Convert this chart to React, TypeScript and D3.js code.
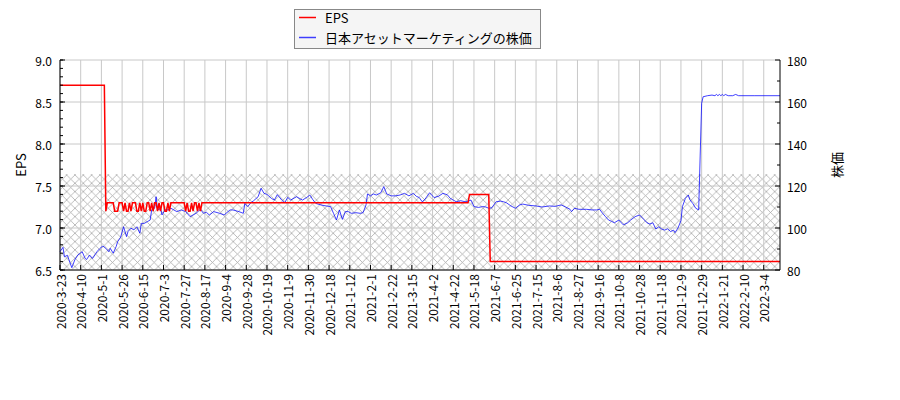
import React from "react"
import * as d3 from "d3"

// x axis is a trading-day index; a label every 14 trading days
const tickLabels = [
  "2020-3-23", "2020-4-10", "2020-5-1", "2020-5-26", "2020-6-15", "2020-7-3", "2020-7-27",
  "2020-8-17", "2020-9-4", "2020-9-28", "2020-10-19", "2020-11-9", "2020-11-30", "2020-12-18",
  "2021-1-12", "2021-2-1", "2021-2-22", "2021-3-15", "2021-4-2", "2021-4-22", "2021-5-18",
  "2021-6-7", "2021-6-25", "2021-7-15", "2021-8-6", "2021-8-27", "2021-9-16", "2021-10-8",
  "2021-10-28", "2021-11-18", "2021-12-9", "2021-12-29", "2022-1-21", "2022-2-10", "2022-3-4",
]
const tickStep = 14
const lastDay = 487

// [day index, EPS]
const epsPoints: [number, number][] = [
  [0, 8.7], [30, 8.7], [31, 7.2], [32, 7.3], [36, 7.3], [37, 7.2], [39, 7.2], [40, 7.3], [42, 7.3],
  [43, 7.2], [44, 7.3], [45, 7.2], [46, 7.2], [47, 7.3], [48, 7.2], [49, 7.3], [51, 7.3], [52, 7.2],
  [53, 7.2], [54, 7.3], [55, 7.2], [56, 7.3], [57, 7.2], [58, 7.2], [59, 7.3], [60, 7.3], [61, 7.2],
  [62, 7.3], [63, 7.2], [64, 7.3], [65, 7.3], [66, 7.2], [67, 7.3], [68, 7.2], [69, 7.3], [70, 7.3],
  [71, 7.2], [72, 7.2], [73, 7.3], [74, 7.2], [75, 7.3], [84, 7.3], [85, 7.2], [86, 7.3], [87, 7.2],
  [88, 7.2], [89, 7.3], [90, 7.2], [91, 7.3], [92, 7.3], [93, 7.2], [94, 7.3], [95, 7.2], [96, 7.3],
  [276, 7.3], [277, 7.4], [290, 7.4], [291, 6.6], [487, 6.6],
]

// [day index, share price]
const pricePoints: [number, number][] = [
  [0, 88.7], [2, 90.8], [3, 86.3], [5, 87], [6, 85], [8, 81.1], [10, 84.8], [12, 87.1], [15, 88.7],
  [17, 85.5], [18, 85], [20, 87.1], [22, 85.5], [25, 88.7], [27, 90.3], [29, 91.4], [31, 90.3],
  [33, 88.7], [34, 90.3], [36, 88], [38, 91.2], [39, 93.5], [41, 95.6], [43, 100.6], [45, 95.9],
  [46, 98.3], [48, 99.9], [50, 99.1], [52, 100.6], [54, 97.5], [55, 102.2], [57, 102.2], [59, 103.0],
  [61, 103.8], [62, 108.6], [64, 109.4], [65, 114.9], [66, 108.6], [68, 109.4], [69, 106.2],
  [71, 108.6], [73, 108.6], [75, 109.4], [79, 107.8], [82, 108.6], [85, 107.8], [88, 105.4],
  [90, 106.2], [92, 107.0], [95, 108.9], [97, 107.0], [99, 107.5], [101, 106.2], [104, 107.8],
  [108, 107.0], [111, 106.2], [115, 108.6], [117, 108.6], [121, 107.8], [124, 107.0], [125, 111.7],
  [127, 110.2], [129, 112.0], [131, 113.0], [134, 114.9], [136, 118.9], [138, 116.5], [140, 116.0],
  [143, 114.1], [145, 113.3], [147, 115.9], [150, 113.3], [152, 112.0], [154, 114.6], [156, 113.3],
  [160, 114.9], [164, 113.3], [167, 114.6], [169, 115.7], [171, 113.5], [173, 111.7], [177, 110.9],
  [180, 110.5], [183, 110.2], [185, 107.0], [187, 103.8], [189, 108.6], [191, 104.1], [193, 107.8],
  [195, 107.8], [197, 107.0], [200, 107.3], [203, 107.0], [205, 107.3], [207, 111], [208, 116.2],
  [210, 115.3], [212, 116.2], [214, 115.7], [217, 116.8], [219, 119.7], [221, 116.2], [224, 115.3],
  [227, 115.3], [230, 115.7], [233, 116.5], [236, 115.3], [239, 116.5], [241, 115.1], [243, 114.5],
  [245, 112.5], [247, 113.8], [250, 116.8], [253, 114.5], [256, 115.1], [259, 116.5], [262, 115.8],
  [264, 114.1], [266, 113.3], [268, 112.5], [271, 113.0], [274, 112.5], [276, 112.8], [278, 113.3],
  [280, 110.2], [283, 109.8], [286, 110.2], [288, 110.0], [290, 109.4], [292, 109.6], [295, 112.5],
  [298, 112.8], [300, 112.5], [302, 112.0], [305, 110.5], [308, 109.4], [311, 111.0], [313, 111.4],
  [317, 110.8], [322, 110.5], [326, 110.0], [331, 110.5], [335, 110.3], [339, 111.0], [342, 110.0],
  [345, 108.9], [346, 107.8], [348, 109.4], [351, 108.9], [356, 108.9], [360, 108.6], [363, 108.6],
  [365, 108.9], [367, 107.0], [369, 105.4], [371, 103.8], [373, 103.2], [375, 102.5], [378, 103.8],
  [381, 101.5], [384, 102.5], [386, 103.8], [389, 105.4], [392, 106.2], [395, 104.0], [397, 102.5],
  [399, 101.9], [401, 102.5], [403, 99.5], [405, 100.6], [407, 99.5], [409, 99.0], [411, 99.6],
  [413, 98.3], [415, 99.0], [416, 97.8], [418, 100.0], [420, 103.5], [421, 110.2], [423, 114.1],
  [425, 115.7], [426, 113.5], [428, 111.7], [430, 109.4], [432, 108.6], [433, 134.3], [434, 159.4],
  [435, 162.5], [438, 163.0], [441, 163.3], [443, 163.0], [444, 163.6], [445, 163.0], [446, 163.6],
  [447, 163.0], [448, 163.6], [449, 163.0], [450, 163.6], [452, 163.0], [455, 163.0], [457, 163.6],
  [459, 163.0], [470, 163.0], [487, 163.0],
]

const epsTicks = [6.5, 7.0, 7.5, 8.0, 8.5, 9.0]
const priceTicks = [80, 100, 120, 140, 160, 180]
const hatchTop = 7.64

const font = "'Noto Sans CJK JP', 'Noto Sans', sans-serif"

export default function App() {
  const left = 60, right = 780, top = 60, bottom = 270
  const x = d3.scaleLinear().domain([0, lastDay]).range([left, right])
  const yL = d3.scaleLinear().domain([6.5, 9.0]).range([bottom, top])
  const yR = d3.scaleLinear().domain([80, 180]).range([bottom, top])

  const epsLine = d3.line<[number, number]>().x(d => x(d[0])).y(d => yL(d[1]))
  const priceLine = d3.line<[number, number]>().x(d => x(d[0])).y(d => yR(d[1]))

  const minorL = d3.range(65, 91).map(v => v / 10)
  const minorR = d3.range(90, 180, 20)
  const xTicks = tickLabels.map((label, i) => ({ label, pos: x(i * tickStep) }))

  return (
    <svg width={900} height={400} style={{ position: "absolute", left: 0, top: 0, background: "#fff" }}
      fontFamily={font}>
      <defs>
        <pattern id="hatch" width={8.33} height={8.33} patternUnits="userSpaceOnUse">
          <path d="M0,0L8.33,8.33M0,8.33L8.33,0" stroke="#a0a0a0" strokeWidth={0.7} fill="none" />
        </pattern>
      </defs>

      {/* hatched band */}
      <rect x={left} y={yL(hatchTop)} width={right - left} height={bottom - yL(hatchTop)} fill="url(#hatch)" />

      {/* grid */}
      {xTicks.map(t => (
        <line key={t.label} x1={t.pos} x2={t.pos} y1={top} y2={bottom} stroke="#c8c8c8" strokeWidth={1} />
      ))}
      {epsTicks.map(v => (
        <line key={v} x1={left} x2={right} y1={yL(v)} y2={yL(v)} stroke="#c8c8c8" strokeWidth={1} />
      ))}

      {/* series */}
      <path d={priceLine(pricePoints) || ""} fill="none" stroke="blue" strokeOpacity={0.75} strokeWidth={1} />
      <path d={epsLine(epsPoints) || ""} fill="none" stroke="red" strokeWidth={1.5} />

      {/* spines */}
      <line x1={left} x2={left} y1={top} y2={bottom} stroke="#000" />
      <line x1={right} x2={right} y1={top} y2={bottom} stroke="#000" />
      <line x1={left} x2={right} y1={bottom} y2={bottom} stroke="#000" />

      {/* left axis */}
      {minorL.map(v => (
        <line key={"ml" + v} x1={left} x2={left + 3} y1={yL(v)} y2={yL(v)} stroke="#000" />
      ))}
      {epsTicks.map(v => (
        <g key={"tl" + v}>
          <line x1={left} x2={left + 5} y1={yL(v)} y2={yL(v)} stroke="#000" />
          <text x={52} y={yL(v)} textAnchor="end" dominantBaseline="central" fontSize={12}>{v.toFixed(1)}</text>
        </g>
      ))}

      {/* right axis */}
      {minorR.map(v => (
        <line key={"mr" + v} x1={right - 3} x2={right} y1={yR(v)} y2={yR(v)} stroke="#000" />
      ))}
      {priceTicks.map(v => (
        <g key={"tr" + v}>
          <line x1={right - 5} x2={right} y1={yR(v)} y2={yR(v)} stroke="#000" />
          <text x={787} y={yR(v)} dominantBaseline="central" fontSize={12}>{v}</text>
        </g>
      ))}

      {/* x axis */}
      {xTicks.map(t => (
        <g key={"tx" + t.label}>
          <line x1={t.pos} x2={t.pos} y1={bottom - 5} y2={bottom} stroke="#000" />
          <text transform={`translate(${t.pos},274) rotate(-90)`} textAnchor="end" dominantBaseline="central"
            fontSize={12}>{t.label}</text>
        </g>
      ))}

      {/* axis titles */}
      <text transform="translate(20,165) rotate(-90)" textAnchor="middle" dominantBaseline="central" fontSize={13}>EPS</text>
      <text transform="translate(836,165) rotate(-90)" textAnchor="middle" dominantBaseline="central" fontSize={13}>株価</text>

      {/* legend */}
      <rect x={294.5} y={9.5} width={246} height={39} fill="#f5f5f5" stroke="#888" strokeWidth={1} />
      <line x1={299} x2={316} y1={17.5} y2={17.5} stroke="red" strokeWidth={1.5} />
      <text x={325} y={17.5} dominantBaseline="central" fontSize={13}>EPS</text>
      <line x1={299} x2={316} y1={37.5} y2={37.5} stroke="blue" strokeOpacity={0.75} strokeWidth={1.5} />
      <text x={325} y={37.5} dominantBaseline="central" fontSize={13}>日本アセットマーケティングの株価</text>
    </svg>
  )
}
